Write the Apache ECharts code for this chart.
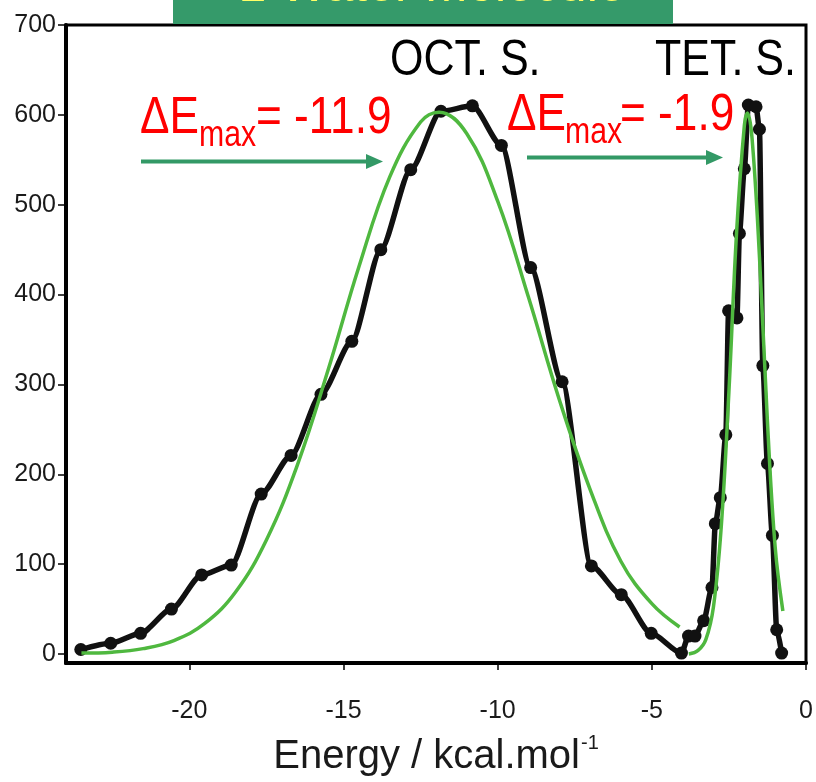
<!DOCTYPE html>
<html>
<head>
<meta charset="utf-8">
<script src="https://cdn.jsdelivr.net/npm/echarts@6/dist/echarts.min.js"></script>
<style>
  html, body { margin: 0; padding: 0; background: #fff; }
  #chart { width: 816px; height: 782px; }
</style>
</head>
<body>
<div id="chart"></div>
<script>
// Interaction energy distribution for the first water molecule (simulation histogram)
const histEnergy = [-23.52, -22.55, -21.58, -20.58, -19.6, -18.64, -17.67, -16.7, -15.73, -14.73,
  -13.79, -12.82, -11.84, -10.82, -9.88, -8.93, -7.91, -6.96, -5.99, -5.02,
  -4.04, -3.81, -3.6, -3.32, -3.05, -2.94, -2.78, -2.6, -2.51, -2.24,
  -2.16, -2.0, -1.87, -1.62, -1.51, -1.4, -1.25, -1.09, -0.95, -0.79];
const histCount = [5, 12, 23, 50, 88, 99, 178, 221, 289, 348,
  450, 539, 604, 610, 566, 430, 303, 98, 66, 23,
  1, 20, 20, 37, 74, 145, 174, 244, 382, 374,
  468, 540, 611, 609, 584, 321, 212, 132, 27, 1];

// Gaussian fit of the octahedral site band
const octFitEnergy = [-23.5, -22.5, -21.5, -20.5, -19.5, -18.5, -17.5, -16.5, -15.5, -14.5,
  -13.5, -12.5, -11.9, -11, -10, -9, -8, -7, -6, -5, -4.1];
const octFitCount = [1, 2, 6, 15, 34, 69, 127, 210, 316, 431,
  531, 592, 603, 579, 504, 397, 283, 183, 103, 56, 30];

// Gaussian fit of the tetrahedral site band
const tetFitEnergy = [-3.8, -3.5, -3.25, -3.0, -2.75, -2.5, -2.25, -2.0, -1.9, -1.75, -1.5, -1.25, -1.0, -0.75];
const tetFitCount = [0, 4, 16, 53, 141, 292, 470, 588, 602, 574, 436, 258, 119, 48];

const xTicks = [-20, -15, -10, -5, 0];
const yTicks = [0, 100, 200, 300, 400, 500, 600, 700];

const pairs = (xs, ys) => xs.map((x, i) => [x, ys[i]]);

const chart = echarts.init(document.getElementById('chart'), null, { renderer: 'canvas' });
const sans = '"Liberation Sans", Arial, sans-serif';

// condensed annotation text: regular face squeezed horizontally
function label(text, x, y, size, color, squeeze) {
  return {
    type: 'text', x: x, y: y, scaleX: squeeze, scaleY: 1, z: 10,
    style: { text: text, font: size + 'px ' + sans, fill: color, align: 'left', verticalAlign: 'middle' }
  };
}

chart.setOption({
  animation: false,
  backgroundColor: '#ffffff',
  grid: {
    left: 66, right: 10, top: 25, bottom: 107,
    show: true, borderColor: '#000', borderWidth: 3, backgroundColor: 'transparent'
  },
  xAxis: {
    type: 'value', min: -24, max: 0,
    axisLine: { show: true, onZero: false, lineStyle: { color: '#000', width: 4 } },
    axisTick: { show: true, customValues: xTicks, length: 7, lineStyle: { color: '#000', width: 1.5 } },
    axisLabel: { customValues: xTicks, fontSize: 25, fontFamily: sans, color: '#1a1a1a', margin: 36 },
    splitLine: { show: false },
    name: '{a|Energy / kcal.mol}{b|-1}',
    nameLocation: 'middle',
    nameGap: 70,
    nameTextStyle: {
      rich: {
        a: { fontSize: 40, fontFamily: sans, color: '#1a1a1a', lineHeight: 44, verticalAlign: 'bottom' },
        b: { fontSize: 20, fontFamily: sans, color: '#1a1a1a', lineHeight: 44, verticalAlign: 'top', padding: [0, 0, 0, 1] }
      }
    }
  },
  yAxis: {
    type: 'value', min: -10, max: 700,
    axisLine: { show: true, onZero: false, lineStyle: { color: '#000', width: 4 } },
    axisTick: { show: true, customValues: yTicks, length: 8, lineStyle: { color: '#000', width: 1.5 } },
    axisLabel: { customValues: yTicks, fontSize: 25, fontFamily: sans, color: '#1a1a1a', margin: 10 },
    splitLine: { show: false }
  },
  series: [
    {
      name: 'histogram',
      type: 'line',
      data: pairs(histEnergy, histCount),
      smooth: 0.25,
      smoothMonotone: 'x',
      symbol: 'circle',
      symbolSize: 13,
      itemStyle: { color: '#111' },
      lineStyle: { color: '#111', width: 5.5 },
      z: 2
    },
    {
      name: 'fit OCT',
      type: 'line',
      data: pairs(octFitEnergy, octFitCount),
      smooth: 0.4,
      showSymbol: false,
      lineStyle: { color: '#4fb83f', width: 3.5 },
      z: 3
    },
    {
      name: 'fit TET',
      type: 'line',
      data: pairs(tetFitEnergy, tetFitCount),
      smooth: 0.4,
      showSymbol: false,
      lineStyle: { color: '#4fb83f', width: 3.5 },
      z: 3
    }
  ],
  graphic: [
    // header banner
    { type: 'rect', left: 173, top: 0, shape: { width: 500, height: 24 }, style: { fill: '#359a6a' }, z: 10 },
    { type: 'text', x: 432, y: 12, z: 11,
      style: { text: '1 Water molecule', font: '50px ' + sans, fill: '#ffff66', align: 'center', verticalAlign: 'bottom' } },
    // site labels
    label('OCT. S.', 390, 61, 50, '#000', 0.86),
    label('TET. S.', 655, 61, 50, '#000', 0.86),
    // peak position labels
    label('ΔE', 140, 119, 52, '#ff0000', 0.85),
    label('max', 199, 136, 36, '#ff0000', 0.84),
    label('= -11.9', 256, 119, 52, '#ff0000', 0.85),
    label('ΔE', 507, 116, 52, '#ff0000', 0.85),
    label('max', 565, 133, 36, '#ff0000', 0.84),
    label('= -1.9', 620, 116, 52, '#ff0000', 0.85),
    // arrows
    { type: 'line', shape: { x1: 141, y1: 161.5, x2: 368, y2: 161.5 }, style: { stroke: '#339966', lineWidth: 4 }, z: 10 },
    { type: 'polygon', shape: { points: [[366, 154], [383, 161.5], [366, 169]] }, style: { fill: '#339966' }, z: 10 },
    { type: 'line', shape: { x1: 527, y1: 157.5, x2: 708, y2: 157.5 }, style: { stroke: '#339966', lineWidth: 4 }, z: 10 },
    { type: 'polygon', shape: { points: [[706, 150], [723, 157.5], [706, 165]] }, style: { fill: '#339966' }, z: 10 }
  ]
});
</script>
</body>
</html>
